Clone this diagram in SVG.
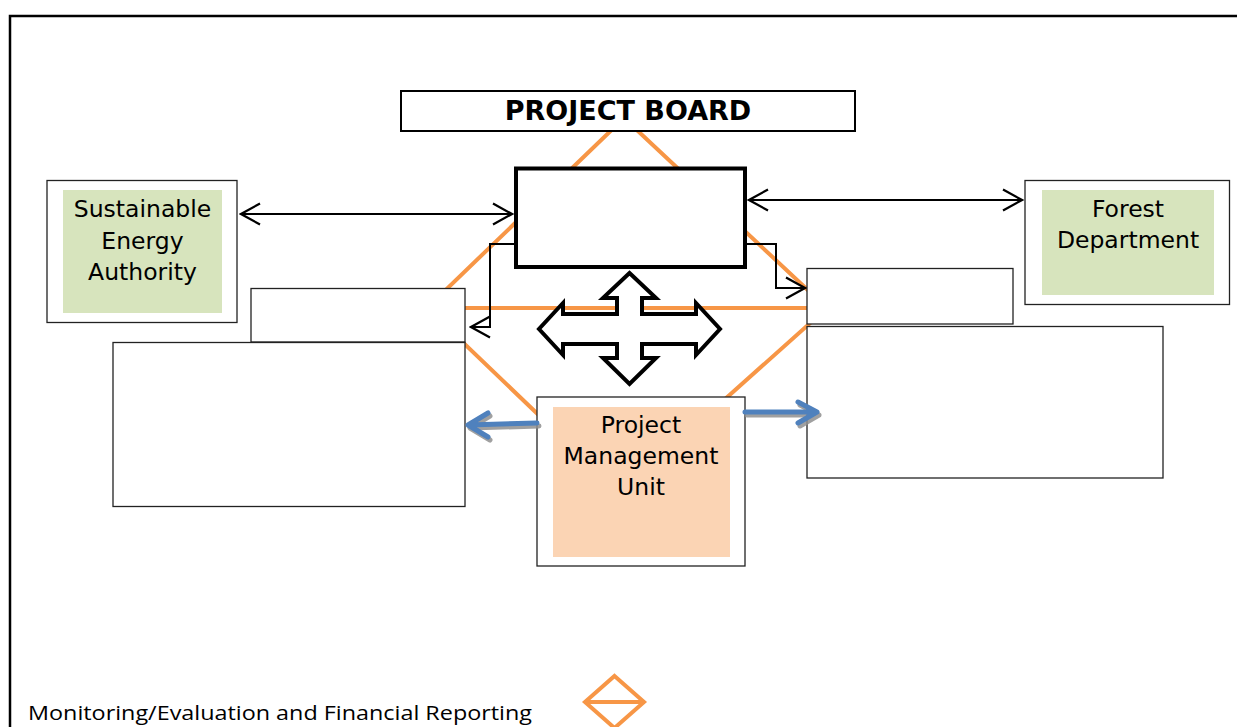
<svg xmlns="http://www.w3.org/2000/svg" width="1237" height="727" viewBox="0 0 1237 727">
<defs>
<style>
.box{fill:#fff;stroke:#222;stroke-width:1.3}
.lbl{font-family:"DejaVu Sans",Verdana,sans-serif;font-size:23.5px;fill:#000;text-anchor:middle}
.orange{fill:none;stroke:#F79646;stroke-width:4;stroke-linejoin:miter}
.conn{fill:none;stroke:#000;stroke-width:2}
.blue{fill:none;stroke:#4F81BD;stroke-width:5;stroke-linecap:round;stroke-linejoin:round}
.shadow{fill:none;stroke:#8f8f8f;stroke-width:5;stroke-linecap:round;stroke-linejoin:round;opacity:0.85}
</style>
<marker id="arr" viewBox="-22 -13 24 26" refX="0" refY="0" markerWidth="24" markerHeight="26" markerUnits="userSpaceOnUse" orient="auto-start-reverse">
<path d="M-19,-10.5 L0,0 L-19,10.5" fill="none" stroke="#000" stroke-width="2.2"/>
</marker>
</defs>
<rect width="1237" height="727" fill="#fff"/>
<rect id="frame" x="10" y="16" width="1240" height="730" fill="none" stroke="#000" stroke-width="2.5"/>

<g id="reporting-lines">
<polygon class="orange" points="624,118 827,308 620,493 427,308"/>
<line class="orange" x1="427" y1="308" x2="827" y2="308"/>
</g>

<g id="project-board">
<rect x="401" y="91" width="454" height="40" fill="#fff" stroke="#000" stroke-width="2"/>
<text x="628" y="120" font-family="'DejaVu Sans',Verdana,sans-serif" font-weight="bold" font-size="27" text-anchor="middle">PROJECT BOARD</text>
</g>

<g id="central-box">
<rect x="516" y="168.5" width="229" height="98.5" fill="#fff" stroke="#000" stroke-width="4"/>
</g>

<g id="sea">
<rect class="box" x="47" y="180.5" width="190" height="142"/>
<rect x="63" y="190" width="159" height="123" fill="#D7E4BD"/>
<text class="lbl" x="142.5" y="217">Sustainable</text>
<text class="lbl" x="142.5" y="248.5">Energy</text>
<text class="lbl" x="142.5" y="280">Authority</text>
</g>

<g id="forest">
<rect class="box" x="1025" y="180.5" width="204.5" height="124"/>
<rect x="1042" y="190" width="172" height="105" fill="#D7E4BD"/>
<text class="lbl" x="1128" y="217">Forest</text>
<text class="lbl" x="1128" y="248">Department</text>
</g>

<g id="left-small">
<rect class="box" x="251" y="288.5" width="214" height="53.5"/>
</g>
<g id="left-large">
<rect class="box" x="113" y="342.5" width="352" height="164"/>
</g>
<g id="right-small">
<rect class="box" x="807" y="268.5" width="206" height="55.5"/>
</g>
<g id="right-large">
<rect class="box" x="807" y="326.5" width="356" height="151.5"/>
</g>

<g id="pmu">
<rect class="box" x="537" y="397" width="208" height="169"/>
<rect x="553" y="407" width="177" height="150" fill="#FBD4B4"/>
<text class="lbl" x="641" y="433">Project</text>
<text class="lbl" x="641" y="464">Management</text>
<text class="lbl" x="641" y="495">Unit</text>
</g>

<g id="connectors">
<line class="conn" x1="241" y1="214" x2="512" y2="214" marker-start="url(#arr)" marker-end="url(#arr)"/>
<line class="conn" x1="749" y1="200" x2="1022" y2="200" marker-start="url(#arr)" marker-end="url(#arr)"/>
<path class="conn" d="M516,244 H490 V327 H471" marker-end="url(#arr)"/>
<path class="conn" d="M745,244 H776 V288 H805" marker-end="url(#arr)"/>
<polygon points="629.5,273 656,298 642,298 642,314 696,314 696,303 720,329 696,355 696,344 642,344 642,358 656,358 629.5,384 603,358 617,358 617,344 563,344 563,355 539,329 563,303 563,314 617,314 617,298 603,298" fill="#fff" stroke="#000" stroke-width="4" stroke-linejoin="miter"/>
<path class="shadow" d="M539,426 L470,428 M490,416 L470,428 L490,440"/>
<path class="blue" d="M537,423 L468,425 M488,413 L468,425 L488,437"/>
<path class="shadow" d="M747,415 L819,415 M800,405 L819,415 L800,426"/>
<path class="blue" d="M745,412 L817,412 M798,402 L817,412 L798,423"/>
</g>

<g id="legend">
<polygon class="orange" points="614.5,676 644,702 614.5,728 585,702"/>
<line class="orange" x1="585" y1="702" x2="644" y2="702"/>
<text x="28" y="720" font-family="'Open Sans','Liberation Sans',sans-serif" font-size="20" textLength="504" lengthAdjust="spacingAndGlyphs">Monitoring/Evaluation and Financial Reporting</text>
</g>
</svg>
